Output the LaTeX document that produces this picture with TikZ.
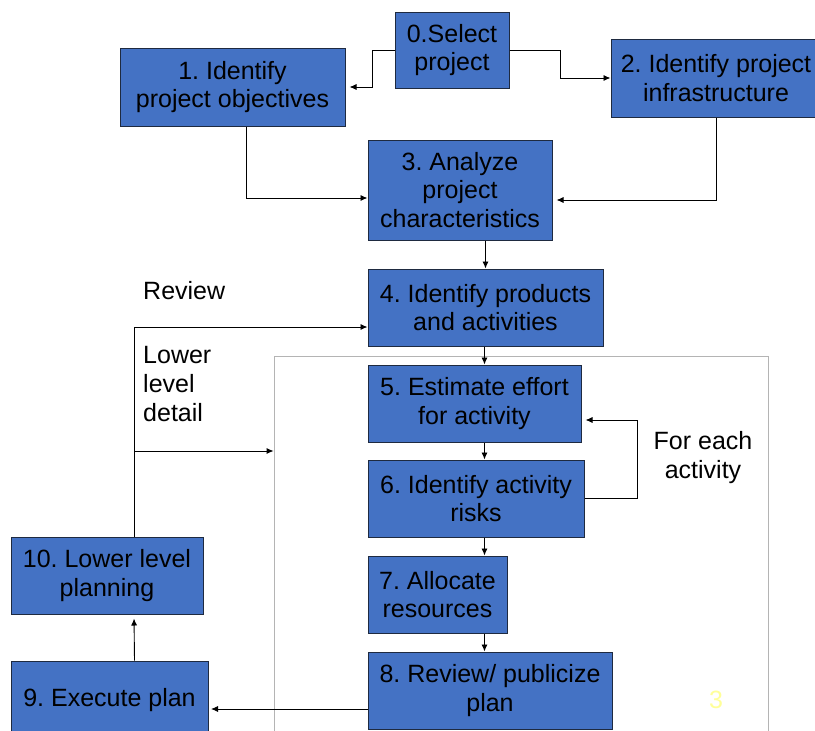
\documentclass[tikz,border=0pt]{standalone}
\usepackage{fontspec}
\setmainfont{Liberation Sans}
\usetikzlibrary{arrows.meta}
\definecolor{boxblue}{HTML}{4472C4}
\definecolor{boxline}{HTML}{1E2A40}
\definecolor{framegray}{HTML}{B4B4B4}
\definecolor{numyellow}{HTML}{FFFF99}
\frenchspacing
\begin{document}
\begin{tikzpicture}[x=1pt,y=-1pt,
  box/.style={draw=boxline, line width=1pt, fill=boxblue, inner sep=0pt, align=center,
    font=\fontsize{25}{28.5}\selectfont, text=black},
  arr/.style={draw=black, line width=0.9pt, -{Latex[length=7pt,width=6pt]}},
  lbl/.style={inner sep=0pt, font=\fontsize{25}{29}\selectfont, text=black}]
\useasboundingbox (0,0) rectangle (815,731);
\clip (0,0) rectangle (815,731);
% outer frame
\node[draw=framegray, line width=0.8pt, minimum width=494pt, minimum height=404pt, inner sep=0pt] (outer) at (521,558) {};
% boxes
\node[box, minimum width=114pt, minimum height=76pt] (b0) at (452,50) {0.Select\\project};
\node[box, minimum width=225pt, minimum height=78pt] (b1) at (232.5,87) {1. Identify\\project objectives};
\node[box, minimum width=210pt, minimum height=78pt] (b2) at (716,78) {2. Identify project\\infrastructure};
\node[box, minimum width=184pt, minimum height=100pt] (b3) at (460,190) {3. Analyze\\project\\characteristics};
\node[box, minimum width=235pt, minimum height=77pt] (b4) at (485.5,307.5) {4. Identify products\\and activities};
\node[box, minimum width=213pt, minimum height=77pt] (b5) at (474.5,403.5) {5. Estimate effort\\for activity};
\node[box, minimum width=216pt, minimum height=77pt] (b6) at (476,498.5) {6. Identify activity\\risks};
\node[box, minimum width=139pt, minimum height=77pt] (b7) at (437.5,594.5) {7. Allocate\\resources};
\node[box, minimum width=244pt, minimum height=77pt] (b8) at (490,690.5) {8. Review/ publicize\\plan};
\node[box, minimum width=197pt, minimum height=79pt] (b9) at (109.5,700.5) {9. Execute plan};
\node[box, minimum width=192pt, minimum height=77pt] (b10) at (107,575.5) {10. Lower level\\planning};
% labels
\node[lbl, anchor=west] (rev) at (143,291) {Review};
\node[lbl, anchor=west, align=left] (lld) at (143,384) {Lower\\level\\detail};
\node[lbl, align=center] (fea) at (703,458) {For each\\activity};
\node[lbl, text=numyellow] (pg) at (716,700) {3};
% connectors
\draw[arr, shorten >=4pt] (b0.west) -- ++(-22.5,0) |- (b1.east);
\draw[arr] (b0.east) -- ++(51,0) |- (b2.west);
\draw[arr] ([xshift=13.5pt]b1.south) |- ([yshift=-8pt]b3.west);
\draw[arr, shorten >=4pt] (b2.south) |- ([yshift=-10pt]b3.east);
\draw[arr] (b3.south -| b4) -- (b4.north);
\coordinate (c45) at ([xshift=-1pt]b4.south);
\draw[arr] (c45) -- (c45 |- b5.north);
\draw[arr] (b5.south -| c45) -- (b6.north -| c45);
\draw[arr] (b6.south -| c45) -- (b7.north -| c45);
\draw[arr] (b7.south -| c45) -- (b8.north -| c45);
\draw[arr, shorten >=4pt] (b6.east) -- ++(53,0) |- ([yshift=-16.5pt]b5.east);
\draw[arr, shorten >=2.5pt] ([yshift=-18.5pt]b8.west) -- ([yshift=-18.5pt]b8.west -| b9.east);
\draw[arr, shorten >=4pt] ([xshift=25pt]b9.north) -- ([xshift=27pt]b10.south);
\coordinate (j) at (134.6,451);
\draw[arr] ([xshift=27.6pt]b10.north) |- ([yshift=-19.5pt]b4.west);
\draw[arr] (j) -- (j -| outer.west);
\end{tikzpicture}
\end{document}
